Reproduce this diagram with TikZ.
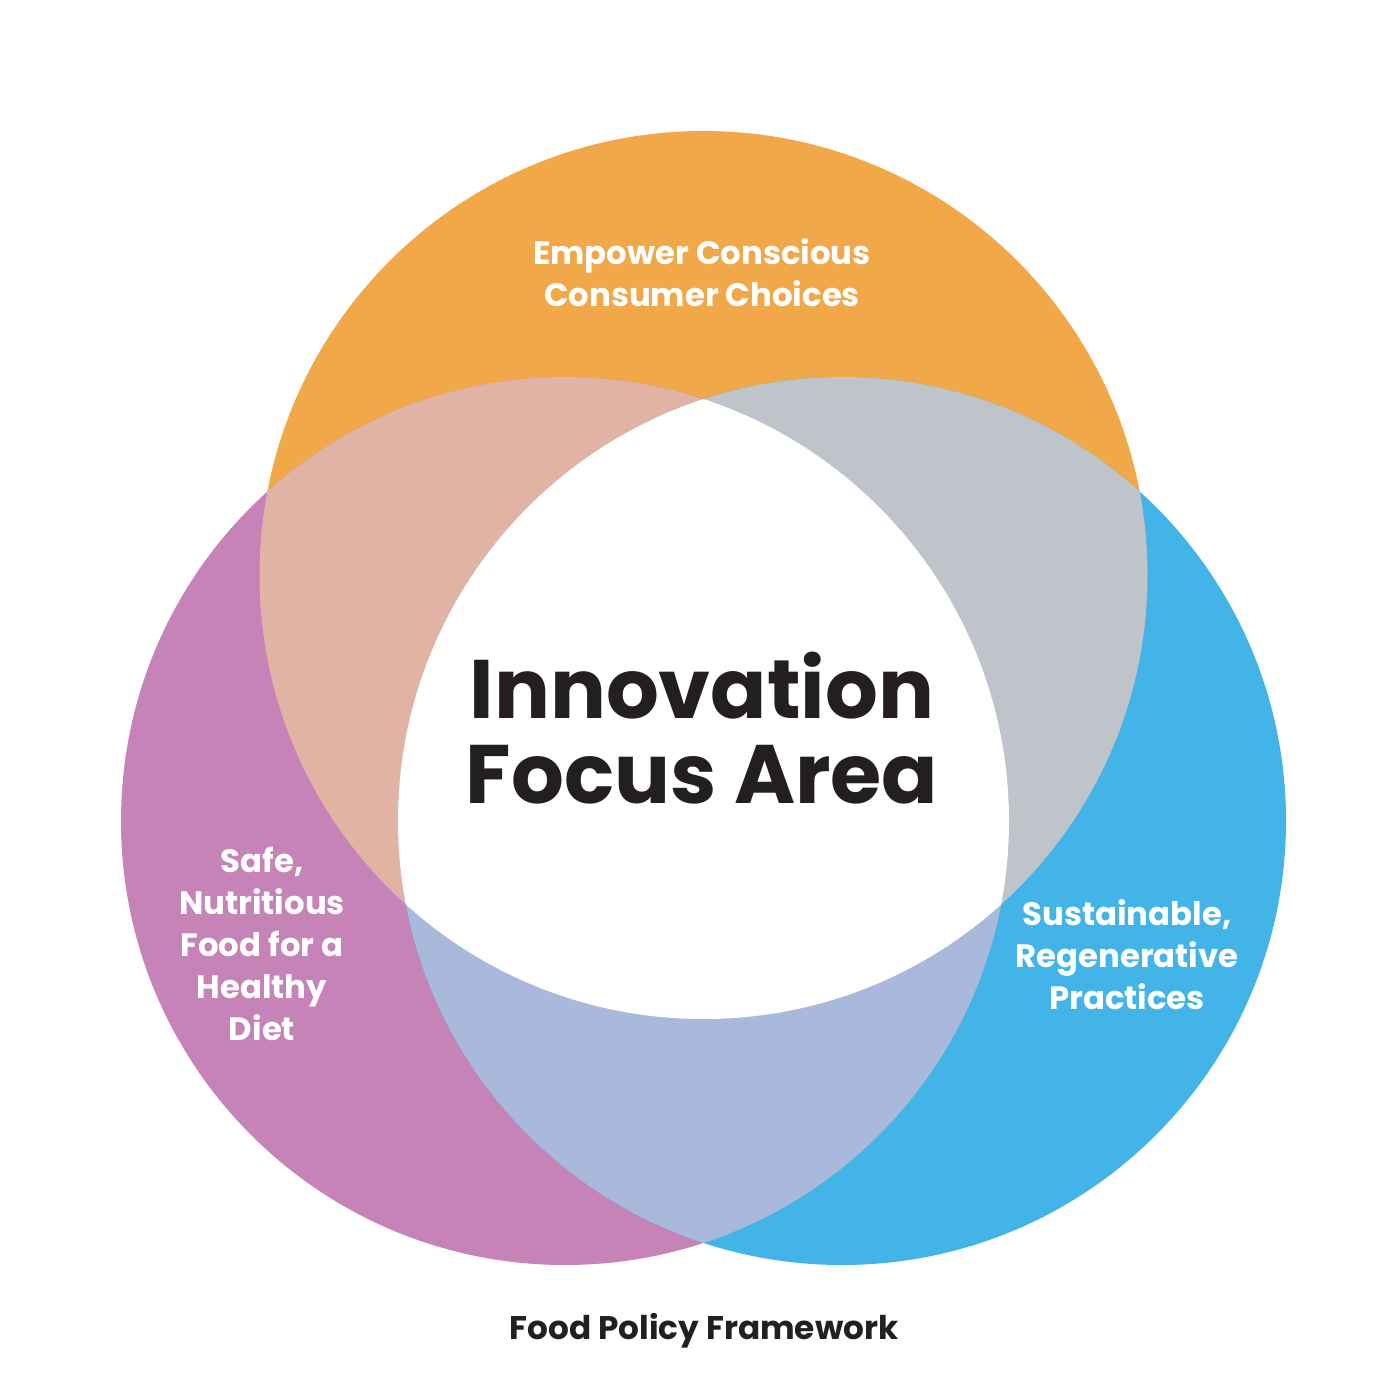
\documentclass[tikz,border=0pt]{standalone}
\usepackage{fontspec}
\setmainfont{Poppins}
\definecolor{orng}{HTML}{F0A849}
\definecolor{purp}{HTML}{C583B8}
\definecolor{blu}{HTML}{43B4E7}
\definecolor{peach}{HTML}{E1B3A4}
\definecolor{grayb}{HTML}{BEC4CA}
\definecolor{lav}{HTML}{A9B9DC}
\definecolor{ink}{HTML}{231F20}
\tikzset{
  lbl/.style={text=white, align=center, inner sep=0pt, font=\fontsize{9.2}{11.9}\selectfont\bfseries},
  bigtitle/.style={text=ink, align=center, inner sep=0pt, font=\fontsize{23.6}{24}\selectfont\bfseries},
  foot/.style={text=ink, inner sep=0pt, font=\fontsize{9.3}{11.9}\selectfont\bfseries}
}
\begin{document}
\begin{tikzpicture}[x=0.01cm,y=-0.01cm]
\useasboundingbox (0,0) rectangle (1400,1400);
\coordinate (T) at (703.5,575);
\coordinate (L) at (565,821);
\coordinate (R) at (842,821);
\def\rr{444}
\fill[orng] (T) circle[radius=\rr];
\fill[purp] (L) circle[radius=\rr];
\fill[blu] (R) circle[radius=\rr];
\begin{scope}\clip (T) circle[radius=\rr]; \fill[peach] (L) circle[radius=\rr];\end{scope}
\begin{scope}\clip (T) circle[radius=\rr]; \fill[grayb] (R) circle[radius=\rr];\end{scope}
\begin{scope}\clip (L) circle[radius=\rr]; \fill[lav] (R) circle[radius=\rr];\end{scope}
\begin{scope}\clip (T) circle[radius=\rr]; \clip (L) circle[radius=\rr]; \fill[white] (R) circle[radius=\rr];\end{scope}
\node[lbl] (top) at (702,273) {Empower Conscious\\Consumer Choices};
\node[lbl] (left) at (262,944) {Safe,\\Nutritious\\Food for a\\Healthy\\Diet};
\node[lbl] (right) at (1127,955) {Sustainable,\\Regenerative\\Practices};
\node[bigtitle] (center) at (702,728) {Innovation\\Focus Area};
\node[foot] (footer) at (704,1331) {Food Policy Framework};
\end{tikzpicture}
\end{document}
